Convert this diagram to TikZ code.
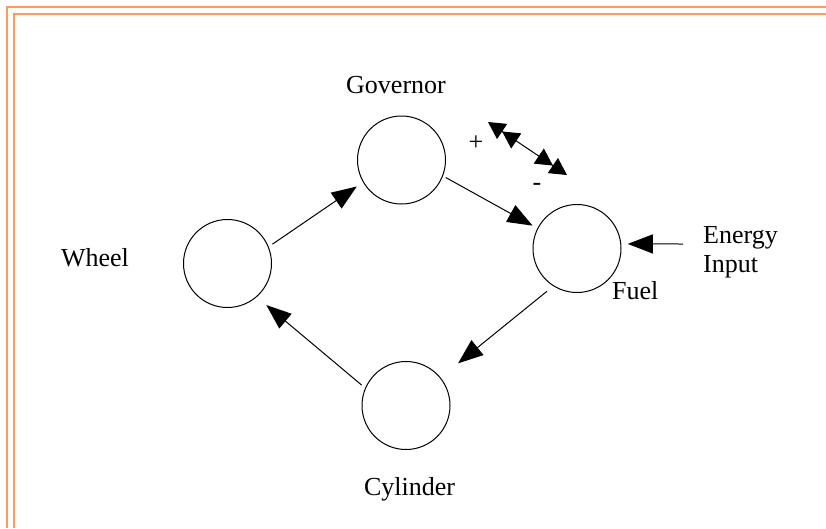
\documentclass[tikz,border=0pt]{standalone}
\usepackage{fontspec}
\setmainfont{Liberation Serif}
\usetikzlibrary{arrows.meta, positioning}
\definecolor{frameOrange}{HTML}{FF9966}
\tikzset{
  part/.style={draw, circle, line width=1pt, minimum size=88pt, inner sep=0pt, outer sep=0pt},
  lbl/.style={inner sep=0pt, font=\fontsize{26}{29}\selectfont},
  flow/.style={-{Triangle[length=25pt, width=19pt]}, line width=1pt},
  trim/.style={line width=1.3pt, color=frameOrange},
}
\begin{document}
\begin{tikzpicture}[x=1pt, y=-1pt]
\useasboundingbox (0,0) rectangle (826,528);
% page frame
\draw[trim] (7,528) -- (7,7) -- (826,7);
\draw[trim] (14,528) -- (14,14) -- (826,14);
% loop parts
\node[part] (gov)   at (401.5,160)   {};
\node[part] (wheel) at (227.5,263.5) {};
\node[part] (fuel)  at (577,248.5)   {};
\node[part] (cyl)   at (406,405.5)   {};
% names
\node[lbl, anchor=base] (govtxt) at (396,93) {Governor};
\node[lbl, anchor=base] (wheeltxt) at (95,266) {Wheel};
\node[lbl, anchor=base west] (fueltxt) at (612,299) {Fuel};
\node[lbl, anchor=base] (cyltxt) at (409.5,495) {Cylinder};
\node[lbl, anchor=north west, align=left] (energytxt) at (703,226) {Energy\\Input};
% flow around the loop
\draw[flow, shorten <=5pt, shorten >=8pt] (wheel.22) -- (gov.210);
\draw[flow, shorten <=3.6pt, shorten >=6pt] (gov.-21) -- (fuel.153);
\draw[flow, shorten <=8.6pt, shorten >=23pt] (fuel.-122) -- (cyl.39);
\draw[flow, shorten <=5pt, shorten >=13pt] (cyl.157) -- (wheel.-49);
% energy input
\coordinate (energyin) at (683,244);
\draw[flow, shorten >=7pt] (energyin) -- (fuel.6);
% governor adjustment
\coordinate (adjup) at (488,122);
\coordinate (adjdown) at (567,175);
\draw[{Triangle[length=17pt, width=18pt]Triangle[length=17pt, width=18pt]}-{Triangle[length=17pt, width=18pt]Triangle[length=17pt, width=18pt]}, line width=1pt] (adjup) -- (adjdown);
\node[lbl] (plus) at (476,143) {+};
\node[lbl] (minus) at (537,187) {-};
\end{tikzpicture}
\end{document}
